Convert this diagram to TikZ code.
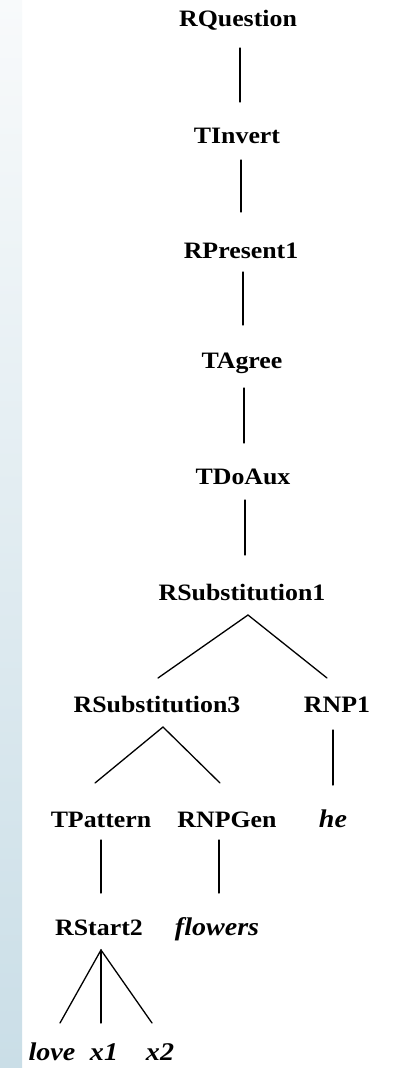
\documentclass[tikz,border=0pt]{standalone}
\usepackage{fontspec}
\setmainfont{Liberation Serif}
\usetikzlibrary{calc}
\definecolor{stripTop}{HTML}{F8FAFB}
\definecolor{stripMid}{HTML}{E3EDF2}
\definecolor{stripBot}{HTML}{CADEE7}
% slightly widened lettering
\newcommand\wideset[1]{\scalebox{1.1}[1]{#1}}
\begin{document}
\begin{tikzpicture}[x=1pt,y=-1pt,
  lbl/.style={anchor=base,inner sep=0pt,font=\fontsize{23.5}{28}\selectfont\bfseries},
  word/.style={lbl,font=\fontsize{25.5}{28}\selectfont\bfseries\itshape},
  edge/.style={line width=1.3pt,line cap=round}]
  % page and left margin strip
  \fill[white] (0,0) rectangle (393,1068);
  \useasboundingbox (0,0) rectangle (393,1068);
  \shade[top color=stripTop,middle color=stripMid,bottom color=stripBot] (0,0) rectangle (22,1068);

  % derivation tree nodes
  \node[lbl] (rq)  at (238,27)   {\wideset{RQuestion}};
  \node[lbl] (ti)  at (237,143)  {\wideset{TInvert}};
  \node[lbl] (rp)  at (241,258)  {\wideset{RPresent1}};
  \node[lbl] (ta)  at (242,368)  {\wideset{TAgree}};
  \node[lbl] (td)  at (243,484)  {\wideset{TDoAux}};
  \node[lbl] (rs1) at (242,600)  {\wideset{RSubstitution1}};
  \node[lbl] (rs3) at (157,712)  {\wideset{RSubstitution3}};
  \node[lbl] (rnp) at (337,712)  {\wideset{RNP1}};
  \node[lbl] (tp)  at (101,827)  {\wideset{TPattern}};
  \node[lbl] (rg)  at (227,827)  {\wideset{RNPGen}};
  \node[word] (he) at (333,827)  {\wideset{he}};
  \node[lbl] (st)  at (99,935)   {\wideset{RStart2}};
  \node[word] (fl) at (217,935)  {\wideset{flowers}};
  \node[word] (lv) at (52,1060)  {\wideset{love}};
  \node[word] (xa) at (104,1060) {\wideset{x1}};
  \node[word] (xb) at (160,1060) {\wideset{x2}};

  % branches
  \draw[edge] ($(rq.base)+(2,21)$)   -- ($(ti.base)+(3,-41)$);
  \draw[edge] ($(ti.base)+(4,17)$)   -- ($(rp.base)+(0,-46)$);
  \draw[edge] ($(rp.base)+(2,14)$)   -- ($(ta.base)+(1,-43)$);
  \draw[edge] ($(ta.base)+(2,20)$)   -- ($(td.base)+(1,-41)$);
  \draw[edge] ($(td.base)+(2,16)$)   -- ($(rs1.base)+(3,-45)$);
  \draw[edge] ($(rs3.base)+(1,-34)$) -- ($(rs1.base)+(6,15)$) -- ($(rnp.base)+(-10,-34)$);
  \draw[edge] ($(rnp.base)+(-4,18)$) -- ($(he.base)+(0,-42)$);
  \draw[edge] ($(tp.base)+(-6,-44)$) -- ($(rs3.base)+(6,15)$) -- ($(rg.base)+(-7,-44)$);
  \draw[edge] ($(tp.base)+(0,13)$)   -- ($(st.base)+(2,-42)$);
  \draw[edge] ($(rg.base)+(-8,13)$)  -- ($(fl.base)+(2,-42)$);
  \draw[edge] ($(lv.base)+(8,-37)$)  -- ($(st.base)+(2,15)$) -- ($(xb.base)+(-8,-37)$);
  \draw[edge] ($(st.base)+(2,15)$)   -- ($(xa.base)+(-3,-37)$);
\end{tikzpicture}
\end{document}
